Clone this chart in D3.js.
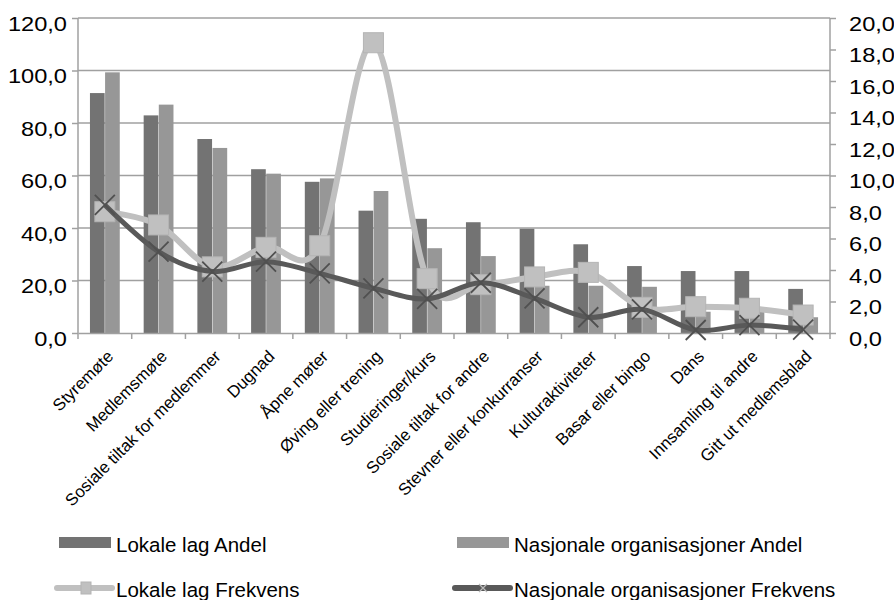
<!DOCTYPE html>
<html><head><meta charset="utf-8">
<script src="https://cdn.jsdelivr.net/npm/d3@7"></script>
<style>
html,body{margin:0;padding:0;background:#fff;}
svg{display:block;font-family:"Liberation Sans",Arial,sans-serif;}
</style></head>
<body>
<svg id="chart" width="894" height="600"></svg>
<script>
const categories = ["Styremøte","Medlemsmøte","Sosiale tiltak for medlemmer","Dugnad","Åpne møter","Øving eller trening","Studieringer/kurs","Sosiale tiltak for andre","Stevner eller konkurranser","Kulturaktiviteter","Basar eller bingo","Dans","Innsamling til andre","Gitt ut medlemsblad"];
const lokaleAndel = [91.4, 82.9, 73.9, 62.4, 57.6, 46.6, 43.5, 42.2, 39.7, 33.8, 25.5, 23.6, 23.6, 16.8];
const nasjonaleAndel = [99.3, 87.0, 70.5, 60.7, 58.9, 54.1, 32.3, 29.3, 18.0, 18.0, 17.6, 8.1, 8.0, 6.0];
const lokaleFrekvens = [7.7, 6.86, 4.2, 5.44, 5.54, 18.43, 3.45, 3.07, 3.56, 3.85, 1.63, 1.67, 1.57, 1.14];
const nasjonaleFrekvens = [8.13, 5.16, 3.9, 4.53, 3.79, 2.84, 2.16, 3.19, 2.2, 1.0, 1.5, 0.19, 0.5, 0.22];
const leftTicks = [0, 20, 40, 60, 80, 100, 120];
const rightTicks = [0, 2, 4, 6, 8, 10, 12, 14, 16, 18, 20];
const seriesNames = ["Lokale lag Andel", "Nasjonale organisasjoner Andel", "Lokale lag Frekvens", "Nasjonale organisasjoner Frekvens"];

const C = {dark: "#737373", light: "#979797", lineLight: "#c0c0c0", lineDark: "#595959", grid: "#a0a0a0", axis: "#a0a0a0", text: "#000"};
const L = 78, R = 830, T = 18, B = 333;
const svg = d3.select("#chart");
const fmt = v => d3.format(".1f")(v).replace(".", ",");

const x = d3.scaleBand().domain(categories).range([L, R]).paddingInner(0).paddingOuter(0);
const xs = d3.scaleBand().domain(["lok", "nas"]).range([0, x.bandwidth()]).paddingInner(0.03).paddingOuter(0.79);
const yL = d3.scaleLinear().domain([0, 120]).range([B, T]);
const yR = d3.scaleLinear().domain([0, 20]).range([B, T]);

// gridlines
svg.append("g").selectAll("line").data(leftTicks.filter(d => d > 0)).join("line")
  .attr("x1", L).attr("x2", R).attr("y1", d => yL(d)).attr("y2", d => yL(d))
  .attr("stroke", C.grid).attr("stroke-width", 1.5);

// bars
const data = categories.map((c, i) => ({c, lok: lokaleAndel[i], nas: nasjonaleAndel[i]}));
const g = svg.append("g");
g.selectAll("rect.lok").data(data).join("rect").attr("class", "lok")
  .attr("x", d => x(d.c) + xs("lok")).attr("width", xs.bandwidth())
  .attr("y", d => yL(d.lok)).attr("height", d => B - yL(d.lok)).attr("fill", C.dark);
g.selectAll("rect.nas").data(data).join("rect").attr("class", "nas")
  .attr("x", d => x(d.c) + xs("nas")).attr("width", xs.bandwidth())
  .attr("y", d => yL(d.nas)).attr("height", d => B - yL(d.nas)).attr("fill", C.light);

// axes
const axL = svg.append("g").attr("transform", `translate(${L},0)`)
  .call(d3.axisLeft(yL).tickValues(leftTicks).tickFormat(fmt).tickSize(6).tickPadding(5));
const axR = svg.append("g").attr("transform", `translate(${R},0)`)
  .call(d3.axisRight(yR).tickValues(rightTicks).tickFormat(fmt).tickSize(6).tickPadding(13));
const axB = svg.append("g").attr("transform", `translate(0,${B})`)
  .call(d3.axisBottom(x).tickSize(0).tickFormat(""));
[axL, axR, axB].forEach(a => {
  a.select(".domain").attr("stroke", C.axis).attr("stroke-width", 1.5);
  a.selectAll(".tick line").attr("stroke", C.axis).attr("stroke-width", 1.5);
  a.selectAll(".tick text").attr("fill", C.text).attr("font-size", 20).attr("dy", "0.62em")
    .attr("font-family", '"Liberation Sans",Arial,sans-serif')
    .each(function () {
      const len = this.getComputedTextLength();
      d3.select(this).attr("textLength", len * 1.18).attr("lengthAdjust", "spacingAndGlyphs");
    });
});
axL.select(".domain").attr("d", `M0,${T}V${B}`);
axR.select(".domain").attr("d", `M0,${T}V${B}`);
// category boundary ticks
svg.append("g").selectAll("line").data(d3.range(categories.length + 1)).join("line")
  .attr("x1", i => L + i * x.step()).attr("x2", i => L + i * x.step())
  .attr("y1", B).attr("y2", B + 6).attr("stroke", C.axis).attr("stroke-width", 1.5);

// category labels
svg.append("g").selectAll("text").data(categories).join("text")
  .attr("transform", d => `translate(${x(d) + x.bandwidth() / 2 + 1},${B + 16}) rotate(-45)`)
  .attr("text-anchor", "end").attr("dominant-baseline", "hanging")
  .attr("font-size", 16.8).attr("fill", C.text).text(d => d);

// lines
const line = d3.line().curve(d3.curveCatmullRom.alpha(0))
  .x((d, i) => x(categories[i]) + x.bandwidth() / 2).y(d => yR(d));
svg.append("path").datum(lokaleFrekvens).attr("d", line)
  .attr("fill", "none").attr("stroke", C.lineLight).attr("stroke-width", 6).attr("stroke-linejoin", "round");
svg.append("g").selectAll("rect").data(lokaleFrekvens).join("rect")
  .attr("x", (d, i) => x(categories[i]) + x.bandwidth() / 2 - 10).attr("y", d => yR(d) - 10)
  .attr("width", 20).attr("height", 20).attr("fill", C.lineLight).attr("stroke", "#b4b4b4").attr("stroke-width", 1);

svg.append("path").datum(nasjonaleFrekvens).attr("d", line)
  .attr("fill", "none").attr("stroke", C.lineDark).attr("stroke-width", 5).attr("stroke-linejoin", "round");
svg.append("g").selectAll("path").data(nasjonaleFrekvens).join("path")
  .attr("d", (d, i) => {
    const cx = x(categories[i]) + x.bandwidth() / 2, cy = yR(d), s = 10;
    return `M${cx - s},${cy - s}L${cx + s},${cy + s}M${cx - s},${cy + s}L${cx + s},${cy - s}`;
  })
  .attr("stroke", "#505050").attr("stroke-width", 1.8).attr("fill", "none");

// legend
const leg = svg.append("g").attr("font-size", 20.5).attr("fill", C.text);
const legPos = [[59, 543], [457, 543], [59, 588], [457, 588]];
seriesNames.forEach((name, i) => {
  const [lx, ly] = legPos[i];
  const gg = leg.append("g");
  if (i < 2) {
    gg.append("rect").attr("x", lx).attr("y", ly - 6).attr("width", 52).attr("height", 11)
      .attr("fill", i === 0 ? C.dark : C.light);
  } else {
    gg.append("line").attr("x1", lx - 2).attr("x2", lx + 53).attr("y1", ly).attr("y2", ly)
      .attr("stroke", i === 2 ? C.lineLight : C.lineDark).attr("stroke-width", 6).attr("stroke-linecap", "round");
    if (i === 2) {
      gg.append("rect").attr("x", lx + 22).attr("y", ly - 6).attr("width", 10).attr("height", 12).attr("fill", C.lineLight).attr("stroke", "#b4b4b4");
    } else {
      const cx = lx + 26, s = 4;
      gg.append("path").attr("d", `M${cx - s},${ly - s}L${cx + s},${ly + s}M${cx - s},${ly + s}L${cx + s},${ly - s}`)
        .attr("stroke", "#bbb").attr("stroke-width", 1.2);
    }
  }
  gg.append("text").attr("x", lx + 57).attr("y", ly + 9).text(name);
});
</script>
</body></html>
